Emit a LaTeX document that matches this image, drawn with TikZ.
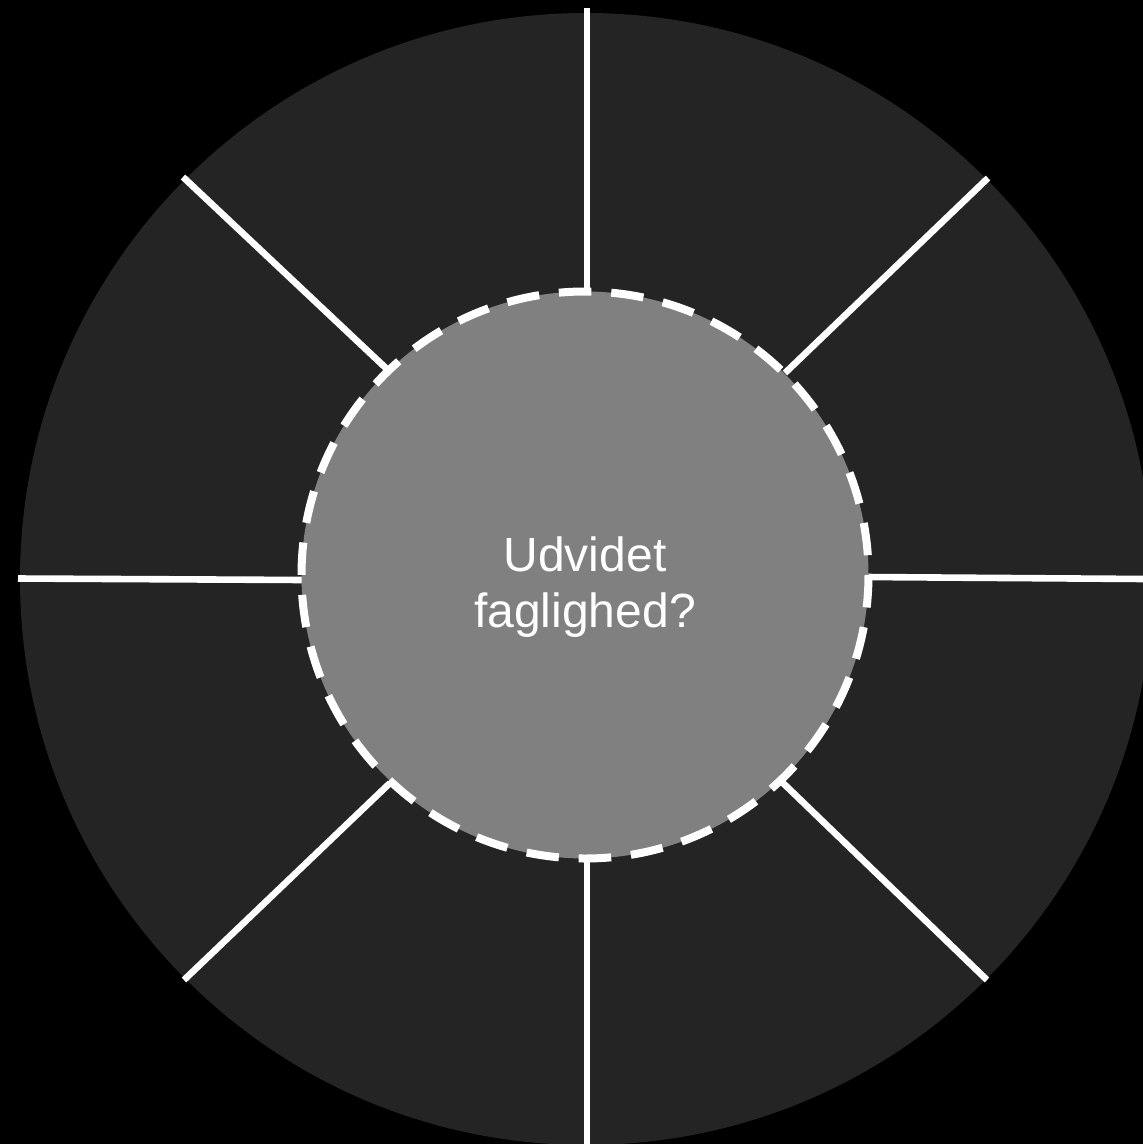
\documentclass[tikz,border=0pt]{standalone}
\usepackage{fontspec}
\setmainfont{Liberation Sans}
\definecolor{outerfill}{HTML}{242424}
\definecolor{innerfill}{HTML}{808080}
\tikzset{
  spoke/.style={draw=white, line width=6.6pt, line cap=butt},
  hub/.style={fill=innerfill, draw=white, line width=8pt, dash pattern=on 32.5pt off 19.9pt},
  hubtext/.style={text=white, align=center, font=\fontsize{48}{56}\selectfont}
}
\begin{document}
\begin{tikzpicture}[x=1pt,y=-1pt]
\fill[black] (0,0) rectangle (1143,1144);
\useasboundingbox (0,0) rectangle (1143,1144);
\fill[outerfill] (586,579) circle (566);
% spoke ends
\coordinate (t1) at (587,8);     \coordinate (t2) at (587,292);
\coordinate (b1) at (587,1146);  \coordinate (b2) at (587,856);
\coordinate (l1) at (18,578.5);  \coordinate (l2) at (304,580);
\coordinate (r1) at (1145,579);  \coordinate (r2) at (866,577);
\coordinate (ul1) at (183,177);  \coordinate (ul2) at (389,371);
\coordinate (ur1) at (988,178);  \coordinate (ur2) at (785,373);
\coordinate (ll1) at (184,980);  \coordinate (ll2) at (390,783);
\coordinate (lr1) at (987,980);  \coordinate (lr2) at (783,783);
\foreach \a in {t,b,l,r,ul,ur,ll,lr}{
  \draw[spoke] (\a1) -- (\a2);
}
\path[hub] (585,575) circle (283.5);
\node[hubtext] (label) at (585,587) {Udvidet\\faglighed?};
\end{tikzpicture}
\end{document}
